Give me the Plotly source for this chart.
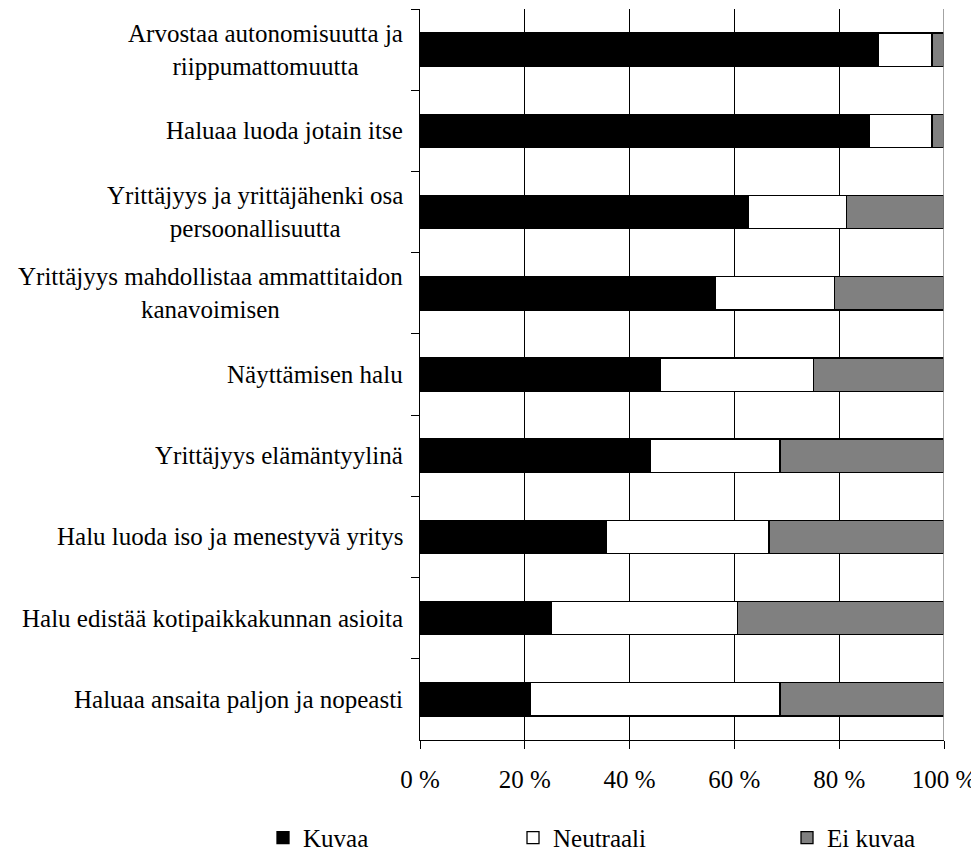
import plotly.graph_objects as go

categories = [
    "Arvostaa autonomisuutta ja<br>riippumattomuutta",
    "Haluaa luoda jotain itse",
    "Yrittäjyys ja yrittäjähenki osa<br>persoonallisuutta",
    "Yrittäjyys mahdollistaa ammattitaidon<br>kanavoimisen",
    "Näyttämisen halu",
    "Yrittäjyys elämäntyylinä",
    "Halu luoda iso ja menestyvä yritys",
    "Halu edistää kotipaikkakunnan asioita",
    "Haluaa ansaita paljon ja nopeasti",
]
kuvaa = [87.5, 85.7, 62.6, 56.3, 45.9, 44.0, 35.5, 25.1, 21.0]
neutraali = [10.2, 12.0, 18.8, 22.8, 29.2, 24.7, 31.1, 35.5, 47.7]
ei_kuvaa = [2.3, 2.3, 18.6, 20.9, 24.9, 31.3, 33.4, 39.4, 31.3]

x_ticks = [0, 20, 40, 60, 80, 100]
x_ticklabels = ["0 %", "20 %", "40 %", "60 %", "80 %", "100 %"]

FONT = "Liberation Serif"
FS = 25
FS_CAT = 25

fig = go.Figure()
series = [
    ("Kuvaa", kuvaa, "#000000", "legend"),
    ("Neutraali", neutraali, "#ffffff", "legend2"),
    ("Ei kuvaa", ei_kuvaa, "#808080", "legend3"),
]
for name, vals, col, leg in series:
    fig.add_trace(go.Bar(
        y=categories, x=vals, name=name, orientation="h",
        marker=dict(color=col, line=dict(color="#000000", width=1.3)),
        legend=leg, showlegend=True,
    ))

# category labels, centred multi-line like the original
for c in categories:
    fig.add_annotation(
        x=0, xref="paper", y=c, yref="y", text=c, showarrow=False,
        xanchor="right", yanchor="middle", align="center", xshift=-15,
        font=dict(family=FONT, size=FS_CAT, color="#000000"),
    )

fig.add_shape(type="line", xref="x", yref="paper", x0=100, x1=100, y0=0, y1=1,
              line=dict(color="#8c8c8c", width=1.6), layer="above")

leg_common = dict(orientation="h", yanchor="middle", xanchor="left", y=-0.134,
                  font=dict(family=FONT, size=FS, color="#000000"),
                  bgcolor="rgba(0,0,0,0)", itemclick=False)
fig.update_layout(
    showlegend=True,
    barmode="stack",
    bargap=0.59,
    width=979, height=859,
    margin=dict(l=412, r=43, t=1, b=127),
    plot_bgcolor="#ffffff", paper_bgcolor="#ffffff",
    font=dict(family=FONT, size=FS, color="#000000"),
    legend=dict(x=-0.2996, **leg_common),
    legend2=dict(x=0.1775, **leg_common),
    legend3=dict(x=0.7004, **leg_common),
    xaxis=dict(
        range=[0, 100], tickvals=x_ticks, ticktext=x_ticklabels,
        showgrid=True, gridcolor="#000000", gridwidth=1,
        showline=True, linecolor="#000000", linewidth=1.3,
        ticks="outside", ticklen=8, tickcolor="#000000", tickwidth=1,
        ticklabelstandoff=9,
        zeroline=False, fixedrange=True,
        tickfont=dict(family=FONT, size=FS, color="#000000"),
    ),
    yaxis=dict(
        autorange="reversed", type="category",
        showticklabels=False, tickson="boundaries",
        ticks="outside", ticklen=8, tickcolor="#000000", tickwidth=1,
        showline=True, linecolor="#000000", linewidth=1.3,
        showgrid=False, zeroline=False, fixedrange=True,
    ),
)

fig.write_html("out.html")
